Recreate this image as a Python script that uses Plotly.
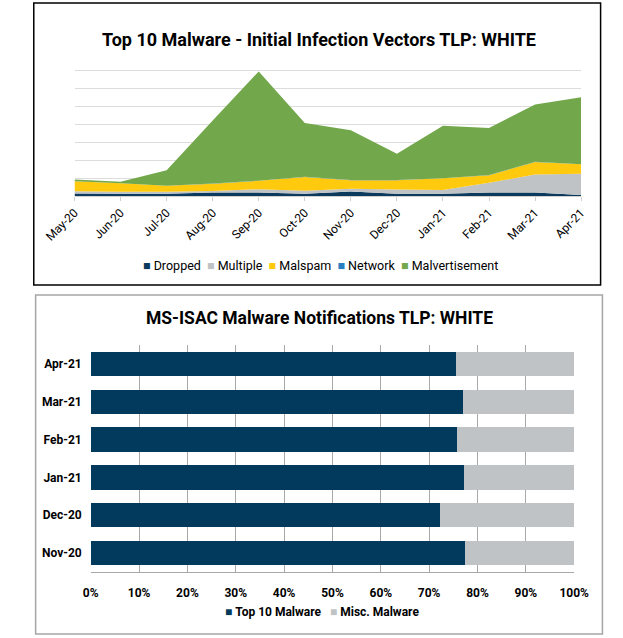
import plotly.graph_objects as go

# ---- Top chart data (stacked area, arbitrary units) ----
months = ["May-20", "Jun-20", "Jul-20", "Aug-20", "Sep-20", "Oct-20",
          "Nov-20", "Dec-20", "Jan-21", "Feb-21", "Mar-21", "Apr-21"]
dropped = [1.4, 1.3, 1.3, 2.0, 1.9, 1.2, 2.5, 1.3, 1.3, 1.9, 1.9, 0.5]
multiple = [1.3, 1.1, 1.1, 0.8, 1.9, 1.8, 1.6, 2.3, 2.1, 5.5, 10.1, 12.0]
malspam = [5.5, 4.7, 3.3, 4.1, 4.7, 7.6, 4.7, 5.2, 6.5, 4.2, 7.0, 5.2]
network = [0.1, 0.1, 0.1, 0.1, 0.1, 0.1, 0.1, 0.1, 0.1, 0.1, 0.1, 0.1]
malvertisement = [0.9, 0.8, 8.6, 35.3, 61.1, 30.1, 27.9, 14.8, 29.3, 26.3, 32.1, 37.5]

# ---- Bottom chart data (100% stacked bars) ----
bar_months = ["Nov-20", "Dec-20", "Jan-21", "Feb-21", "Mar-21", "Apr-21"]
top10_pct = [77.5, 72.3, 77.2, 75.8, 77.0, 75.6]
misc_pct = [22.5, 27.7, 22.8, 24.2, 23.0, 24.4]

W, H = 623, 638
FONT = "Roboto, Liberation Sans, sans-serif"

C_DROP = "#0b3a5c"
C_MULT = "#bfc3c6"
C_MALS = "#ffc90e"
C_NET = "#2a7fc2"
C_MALV = "#72a84b"
C_TOP = "#013a5c"
C_MISC = "#c0c3c5"


def px_x(x):
    return x / W


def px_y(y):
    return 1 - y / H


fig = go.Figure()

area_series = [("Dropped", dropped, C_DROP), ("Multiple", multiple, C_MULT),
               ("Malspam", malspam, C_MALS), ("Network", network, C_NET),
               ("Malvertisement", malvertisement, C_MALV)]

for name, vals, col in area_series:
    fig.add_trace(go.Scatter(
        x=months, y=vals, name=name, stackgroup="one", mode="none",
        fillcolor=col, showlegend=False, xaxis="x", yaxis="y",
        hoverinfo="x+y+name"))

bar_series = [("Top 10 Malware", top10_pct, C_TOP), ("Misc. Malware", misc_pct, C_MISC)]
for name, vals, col in bar_series:
    fig.add_trace(go.Bar(
        y=bar_months, x=vals, name=name, orientation="h",
        marker=dict(color=col, line=dict(width=0)), xaxis="x2", yaxis="y2",
        showlegend=False))

NB = "\u00a0"


def legend_text(series, bold=False, gap=2):
    parts = []
    for name, _, col in series:
        label = f"<b>{name}</b>" if bold else name
        parts.append(f'<span style="color:{col}">\u25a0</span>{NB}{label}')
    return (NB * gap).join(parts)


fig.update_layout(
    width=W, height=H,
    margin=dict(l=0, r=0, t=0, b=0),
    paper_bgcolor="white", plot_bgcolor="white",
    font=dict(family=FONT, color="#000000", size=12),
    barmode="stack", bargap=0.36, showlegend=False,
    xaxis=dict(domain=[px_x(47), px_x(594)], range=[0, 11], type="category",
               tickangle=-45, showgrid=False, showline=True,
               linecolor="#d0d0d0", ticks="outside", ticklen=4,
               tickcolor="#d0d0d0", tickfont=dict(size=12, family=FONT),
               anchor="y", fixedrange=True),
    yaxis=dict(domain=[px_y(196), px_y(53)], range=[0, 80], dtick=10,
               showticklabels=False, showgrid=True, gridcolor="#dcdcdc",
               gridwidth=1, zeroline=False, anchor="x", fixedrange=True),
    xaxis2=dict(domain=[px_x(64.5), px_x(586.5)], range=[0, 100], dtick=10,
                ticksuffix="%", showgrid=True, gridcolor="#a8a8a8",
                gridwidth=1, zeroline=False, showline=True,
                linecolor="#a8a8a8", linewidth=1, ticks="",
                ticklabelstandoff=10,
                tickfont=dict(size=12, family=FONT, weight="bold"),
                anchor="y2", fixedrange=True),
    yaxis2=dict(domain=[px_y(572), px_y(345)], type="category",
                showgrid=False, showline=False, ticks="",
                ticklabelstandoff=8,
                tickfont=dict(size=12, family=FONT, weight="bold"),
                anchor="x2", fixedrange=True),
    annotations=[
        dict(text="<b>Top 10 Malware - Initial Infection Vectors TLP: WHITE</b>",
             x=px_x(311), y=px_y(27), xref="paper", yref="paper",
             showarrow=False, font=dict(size=18, family=FONT)),
        dict(text="<b>MS-ISAC Malware Notifications TLP: WHITE</b>",
             x=px_x(312), y=px_y(318), xref="paper", yref="paper",
             showarrow=False, font=dict(size=17.5, family=FONT)),
        dict(text=legend_text(area_series), x=px_x(313), y=px_y(265),
             xref="paper", yref="paper", showarrow=False,
             font=dict(size=12.5, family=FONT)),
        dict(text=legend_text(bar_series, bold=True, gap=3), x=px_x(314),
             y=px_y(621), xref="paper", yref="paper", showarrow=False,
             font=dict(size=12, family=FONT)),
    ],
    shapes=[
        dict(type="rect", xref="paper", yref="paper",
             x0=px_x(3), x1=px_x(615), y0=px_y(285), y1=px_y(3),
             line=dict(color="#000000", width=1.5), fillcolor="rgba(0,0,0,0)",
             layer="below"),
        dict(type="rect", xref="paper", yref="paper",
             x0=px_x(5), x1=px_x(617), y0=px_y(634), y1=px_y(295),
             line=dict(color="#a6a6a6", width=1.5), fillcolor="rgba(0,0,0,0)",
             layer="below"),
    ],
)

fig.write_html("out.html", config={"displayModeBar": False},
               post_script="document.body.style.margin='0';"
                           "document.body.style.overflow='hidden';")
